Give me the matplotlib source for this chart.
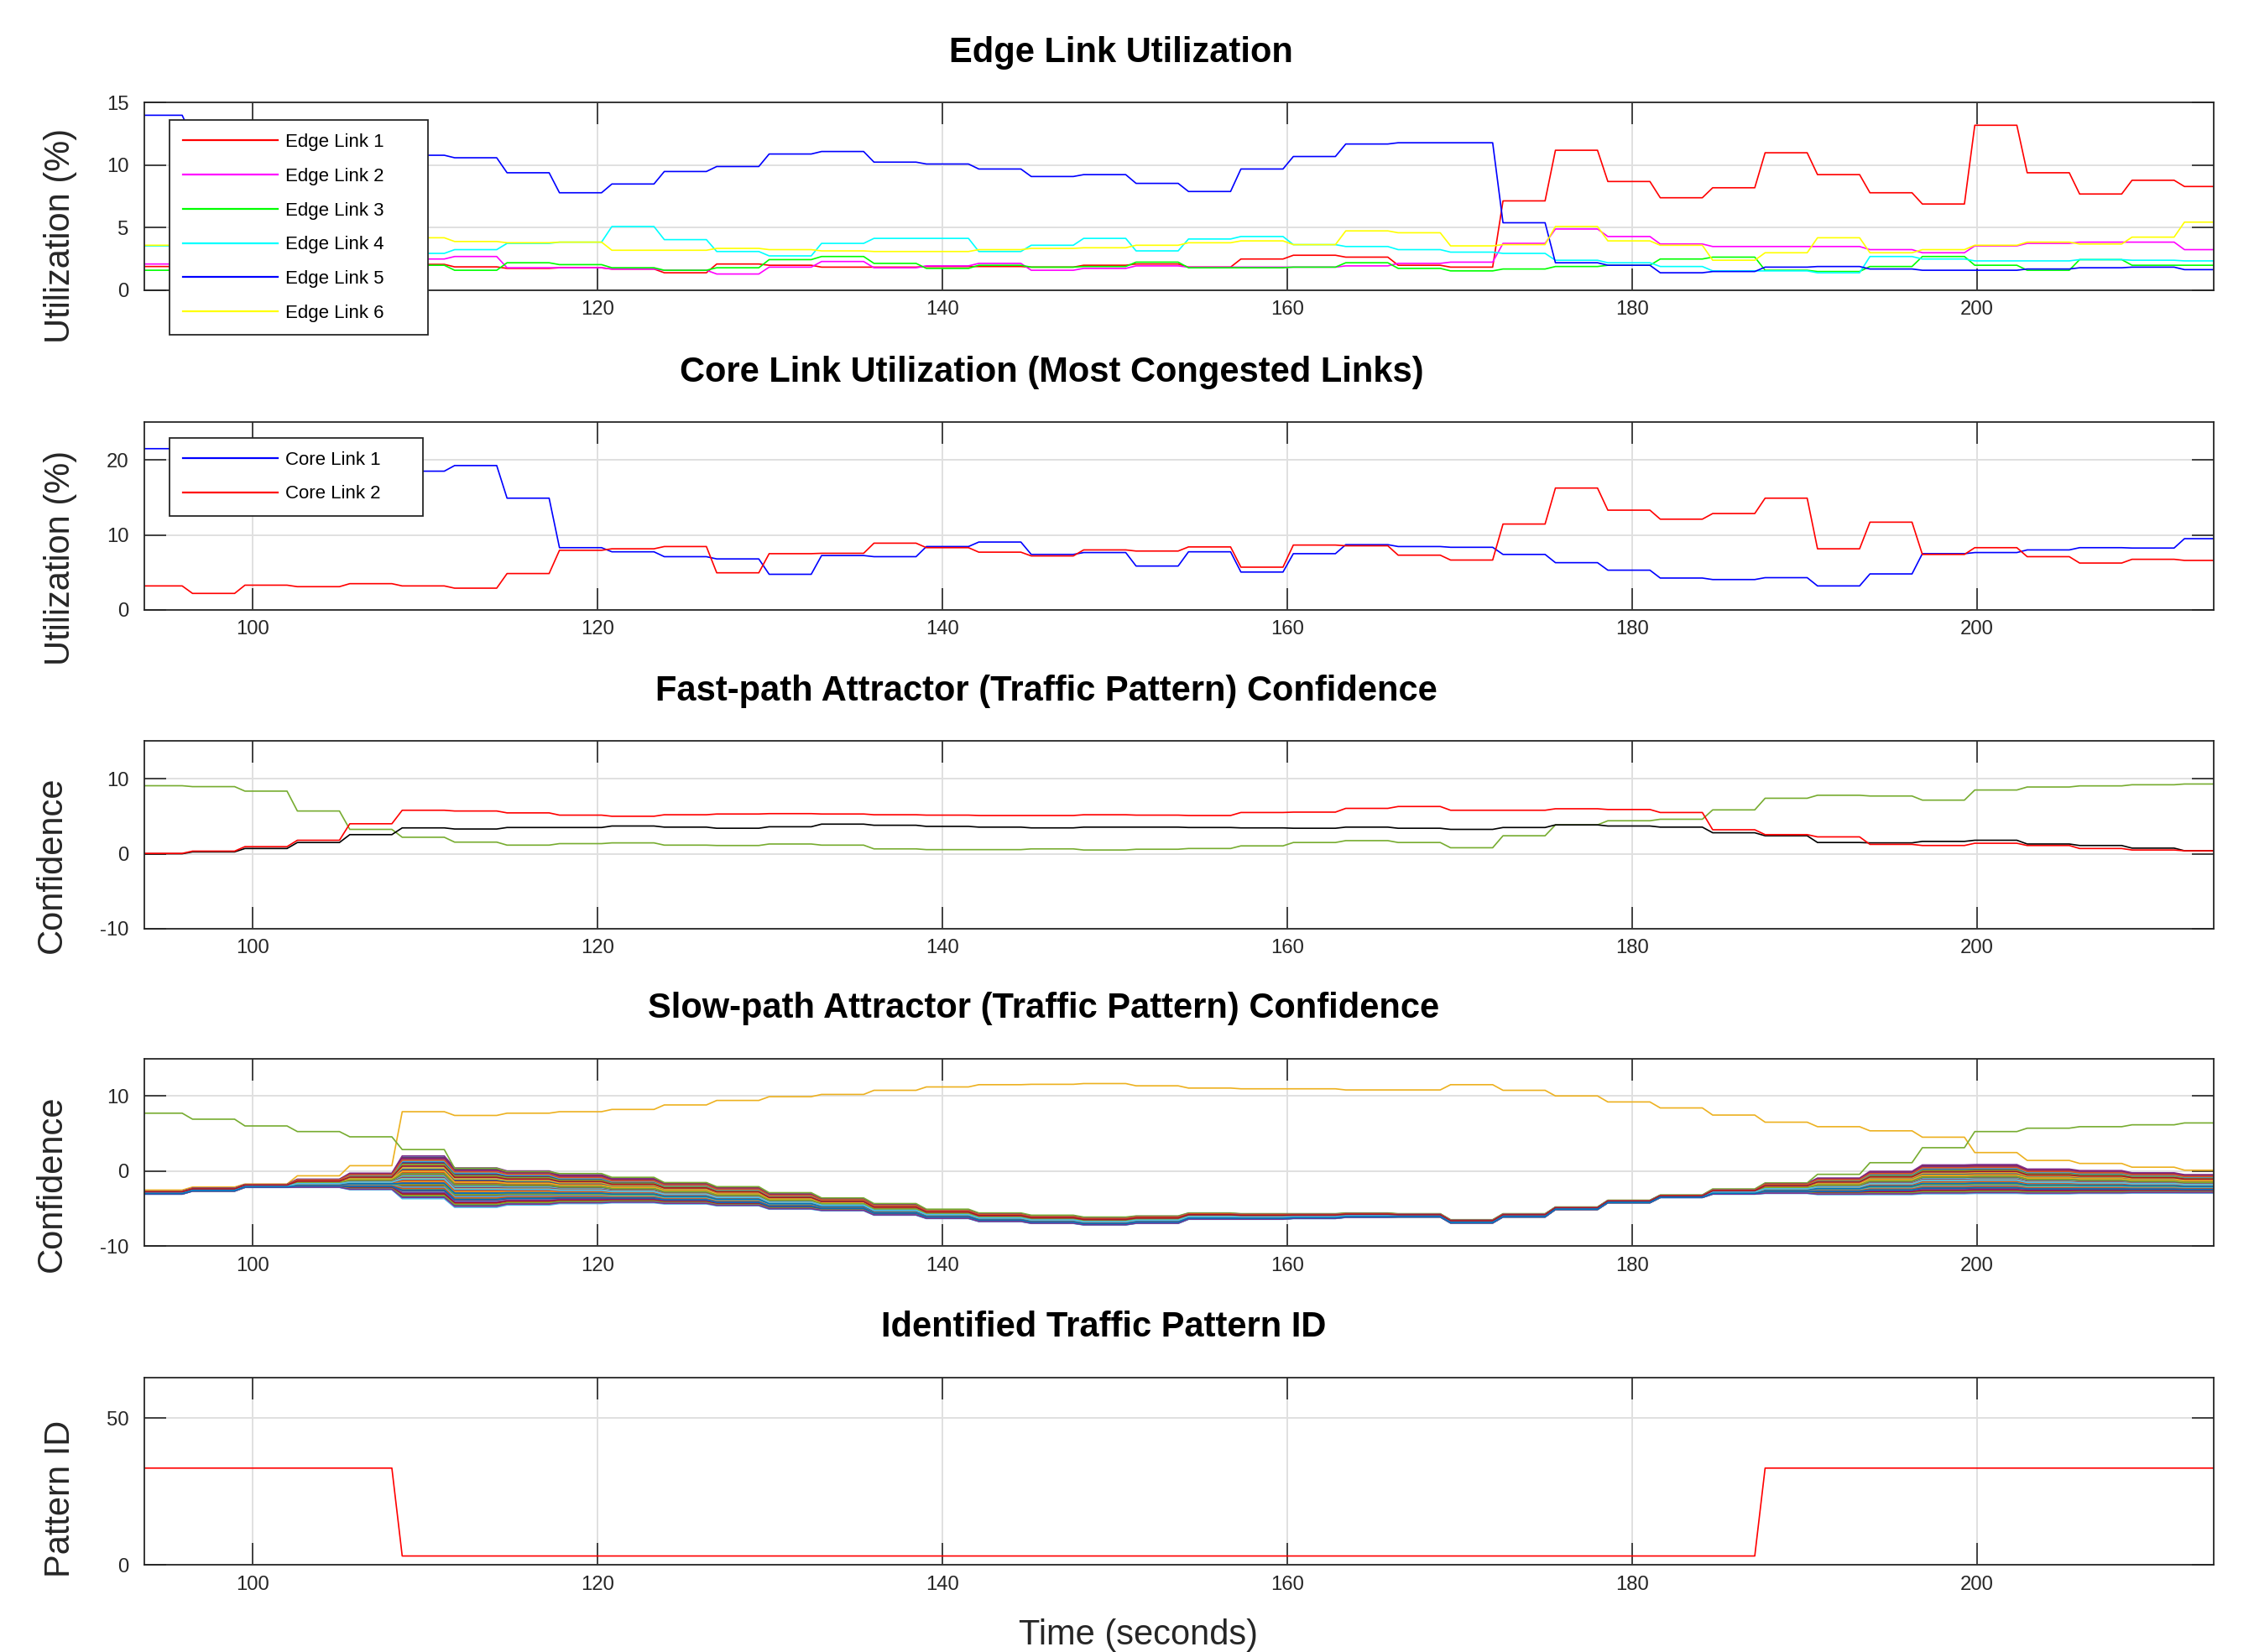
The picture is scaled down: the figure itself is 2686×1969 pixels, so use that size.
import numpy as np
import matplotlib
matplotlib.use("Agg")
import matplotlib.pyplot as plt

# the traffic levels change every ~3.04 s, the first change is at 95.9 s
t_first = 95.9
t_step = 3.04
ramp = 0.6
t_lo, t_hi = 93.7, 213.7

# ---- edge links (%) : one value per update interval
edge1 = [1.9, 2.0, 2.0, 2.1, 2.1, 2.07, 1.87, 1.75, 1.8, 1.7, 1.4, 2.1, 2.0, 1.85, 1.85, 1.9, 1.9, 1.85, 2.0, 2.1,
         1.85, 2.5, 2.8, 2.65, 2.0, 1.85, 7.15, 11.2, 8.7, 7.4, 8.2, 11.0, 9.25, 7.8, 6.9, 13.2, 9.4, 7.7, 8.8, 8.3]
edge2 = [2.1, 2.2, 2.3, 2.4, 2.5, 2.5, 2.7, 1.8, 1.8, 1.7, 1.6, 1.3, 1.85, 2.3, 1.8, 1.95, 2.15, 1.6, 1.75, 1.95,
         1.85, 1.85, 1.85, 1.95, 2.15, 2.25, 3.75, 4.9, 4.3, 3.7, 3.5, 3.5, 3.5, 3.25, 3.0, 3.55, 3.75, 3.85, 3.85, 3.25]
edge3 = [1.6, 1.7, 1.8, 1.9, 2.0, 2.0, 1.6, 2.2, 2.05, 1.8, 1.6, 1.8, 2.45, 2.7, 2.15, 1.75, 2.0, 1.85, 1.9, 2.25,
         1.8, 1.8, 1.85, 2.2, 1.75, 1.55, 1.7, 1.9, 2.0, 2.5, 2.65, 1.6, 1.5, 1.9, 2.7, 2.0, 1.6, 2.45, 2.0, 2.0]
edge4 = [3.55, 3.4, 3.2, 3.0, 2.95, 2.95, 3.25, 3.75, 3.85, 5.1, 4.05, 3.1, 2.75, 3.75, 4.15, 4.15, 3.1, 3.6, 4.15, 3.15,
         4.1, 4.3, 3.65, 3.5, 3.25, 3.05, 2.95, 2.4, 2.2, 1.9, 1.55, 1.55, 1.4, 2.7, 2.5, 2.35, 2.35, 2.45, 2.4, 2.35]
edge5 = [14.0, 12.2, 11.8, 11.4, 11.0, 10.8, 10.6, 9.4, 7.8, 8.5, 9.5, 9.9, 10.9, 11.1, 10.25, 10.1, 9.7, 9.1, 9.25, 8.55,
         7.9, 9.7, 10.7, 11.7, 11.8, 11.8, 5.4, 2.2, 2.0, 1.4, 1.5, 1.85, 1.9, 1.7, 1.6, 1.6, 1.7, 1.8, 1.85, 1.65]
edge6 = [3.6, 3.8, 4.0, 4.2, 4.2, 4.2, 3.9, 3.8, 3.85, 3.2, 3.2, 3.35, 3.25, 3.15, 3.1, 3.1, 3.25, 3.35, 3.4, 3.6,
         3.8, 3.95, 3.65, 4.75, 4.6, 3.55, 3.65, 5.1, 3.95, 3.6, 2.4, 3.0, 4.2, 3.0, 3.25, 3.6, 3.85, 3.7, 4.25, 5.45]

# ---- core links (%)
core1 = [21.5, 20.8, 20.2, 19.6, 19.0, 18.5, 19.25, 14.9, 8.3, 7.75, 7.1, 6.8, 4.75, 7.25, 7.1, 8.45, 9.05, 7.4, 7.65, 5.85,
         7.75, 5.05, 7.5, 8.7, 8.45, 8.35, 7.4, 6.3, 5.3, 4.25, 4.05, 4.3, 3.2, 4.8, 7.5, 7.65, 8.0, 8.3, 8.25, 9.5]
core2 = [3.2, 2.2, 3.3, 3.1, 3.5, 3.2, 2.9, 4.85, 7.95, 8.15, 8.45, 4.95, 7.5, 7.55, 8.9, 8.3, 7.7, 7.2, 8.0, 7.85,
         8.4, 5.7, 8.65, 8.55, 7.3, 6.65, 11.45, 16.25, 13.3, 12.1, 12.85, 14.9, 8.15, 11.7, 7.4, 8.3, 7.1, 6.25, 6.75, 6.6]

# ---- fast-path attractor confidence
fast_green = [9.07, 8.95, 8.35, 5.7, 3.25, 2.2, 1.55, 1.15, 1.35, 1.45, 1.15, 1.1, 1.3, 1.15, 0.65, 0.55, 0.55, 0.65, 0.5, 0.6,
              0.7, 1.05, 1.5, 1.75, 1.5, 0.8, 2.4, 3.85, 4.4, 4.6, 5.85, 7.4, 7.8, 7.7, 7.15, 8.5, 8.9, 9.05, 9.2, 9.3]
fast_red = [0.05, 0.35, 0.95, 1.8, 4.0, 5.8, 5.7, 5.45, 5.15, 5.0, 5.2, 5.3, 5.35, 5.3, 5.2, 5.15, 5.1, 5.1, 5.2, 5.15,
            5.1, 5.5, 5.55, 6.05, 6.3, 5.8, 5.8, 6.0, 5.9, 5.5, 3.2, 2.55, 2.25, 1.25, 1.1, 1.4, 1.1, 0.7, 0.5, 0.4]
fast_black = [0.0, 0.25, 0.7, 1.5, 2.55, 3.45, 3.3, 3.5, 3.5, 3.7, 3.55, 3.4, 3.6, 3.95, 3.8, 3.65, 3.55, 3.45, 3.55, 3.55,
              3.5, 3.45, 3.4, 3.55, 3.4, 3.25, 3.5, 3.85, 3.7, 3.55, 2.8, 2.4, 1.5, 1.45, 1.65, 1.8, 1.3, 1.1, 0.75, 0.4]

# ---- slow-path attractor confidence (pattern 3 = orange, pattern 33 = green)
slow_p3 = [-2.55, -2.15, -1.75, -0.65, 0.7, 7.9, 7.4, 7.7, 7.9, 8.2, 8.8, 9.4, 9.9, 10.2, 10.75, 11.2, 11.5, 11.55, 11.65, 11.35,
           11.05, 10.95, 10.95, 10.8, 10.8, 11.5, 10.75, 10.0, 9.2, 8.4, 7.45, 6.5, 5.9, 5.35, 4.5, 2.45, 1.4, 1.0, 0.5, 0.1]
slow_p33 = [7.7, 6.9, 6.0, 5.25, 4.55, 2.85, 0.35, -0.1, -0.35, -0.85, -1.55, -2.1, -2.9, -3.6, -4.35, -5.1, -5.6, -5.9, -6.15, -6.0,
            -5.6, -5.7, -5.7, -5.6, -5.7, -6.5, -5.7, -4.8, -3.9, -3.2, -2.4, -1.6, -0.45, 1.1, 3.1, 5.25, 5.7, 5.9, 6.15, 6.4]
# the other 62 patterns form a dense band: top / bottom of the band per interval
band_hi = [-2.7, -2.3, -1.8, -1.1, -0.3, 2.0, 0.4, 0.0, -0.5, -1.0, -1.6, -2.2, -3.05, -3.7, -4.5, -5.2, -5.7, -6.0, -6.25, -6.05,
           -5.65, -5.75, -5.75, -5.65, -5.75, -6.55, -5.75, -4.85, -3.95, -3.25, -2.5, -1.65, -0.95, -0.05, 0.8, 0.85, 0.25, 0.05, -0.25, -0.5]
band_lo = [-3.1, -2.7, -2.2, -2.2, -2.5, -3.7, -4.85, -4.55, -4.35, -4.25, -4.4, -4.65, -5.1, -5.3, -5.9, -6.35, -6.75, -7.0, -7.2, -7.0,
           -6.45, -6.45, -6.35, -6.2, -6.15, -6.95, -6.15, -5.15, -4.25, -3.55, -3.1, -3.0, -3.15, -3.15, -3.05, -3.0, -3.05, -3.0, -2.95, -2.95]
# rough place of each pattern inside the band (0 = bottom, 1 = top), patterns 1..64
band_pos = [0.97, 0.50, None, 1.00, 0.44, 0.00, 0.95, 0.12, 0.15, 0.55, 0.82, 0.68, 0.74, 0.40, 0.45, 0.78,
            0.30, 0.26, 0.22, 0.35, 0.66, 0.70, 0.33, 0.18, 0.60, 0.52, 0.16, 0.19, 0.28, 0.62, 0.72, 0.38,
            None, 0.54, 0.84, 0.86, 0.08, 0.40, 0.93, 0.80, 0.88, 0.30, 0.05, 0.90, 0.10, 0.14, 0.32, 0.27,
            0.11, 0.58, 0.42, 0.64, 0.49, 0.07, 0.02, 0.57, 0.36, 0.24, 0.47, 0.03, 0.58, 0.46, 0.76, 0.20]

# ---- identified pattern
pattern_id = [33] * 5 + [3] * 26 + [33] * 9

matlab_colors = ['#0072BD', '#D95319', '#EDB120', '#7E2F8E', '#77AC30', '#4DBEEE', '#A2142F']


def stairs(levels):
    levels = np.asarray(levels, dtype=float)
    tc = t_first + t_step * np.arange(len(levels) - 1)
    x = [t_lo]
    y = [levels[0]]
    for i in range(1, len(levels)):
        x += [tc[i - 1], tc[i - 1] + ramp]
        y += [levels[i - 1], levels[i]]
    x.append(t_hi)
    y.append(levels[-1])
    return np.array(x), np.array(y)


plt.rcParams['font.family'] = ['Liberation Sans', 'DejaVu Sans']
plt.rcParams['axes.unicode_minus'] = False

fig = plt.figure(figsize=(13.43, 9.845), dpi=200)
bottoms = [0.8243, 0.6308, 0.4378, 0.2458, 0.0528]
axes = [fig.add_axes([0.064, b, 0.918, 0.1135]) for b in bottoms]

LW = 0.6
DARK = '#262626'
for ax in axes:
    ax.set_xlim(t_lo, t_hi)
    ax.set_xticks([100, 120, 140, 160, 180, 200])
    ax.tick_params(direction='in', length=9.4, width=0.6, top=True, right=True,
                   labelsize=8.6, color=DARK, labelcolor=DARK)
    ax.tick_params(axis='x', pad=4.5)
    ax.tick_params(axis='y', pad=6.5)
    ax.grid(True, color='#e0e0e0', lw=0.7)
    ax.set_axisbelow(True)
    for sp in ax.spines.values():
        sp.set_linewidth(0.65)
        sp.set_color(DARK)


def title(ax, xc, text):
    ax.text(xc, 1.265, text, transform=ax.transAxes, ha='center', va='center',
            fontsize=15, fontweight='bold')


def ylab(ax, x, y, text):
    ax.text(x, y, text, transform=ax.transAxes, rotation=90, ha='center', va='center',
            fontsize=15, color=DARK)


def box_legend(ax, anchor):
    leg = ax.legend(loc='upper left', bbox_to_anchor=anchor, mode='expand',
                    borderaxespad=0, fontsize=8, handlelength=5.1, handletextpad=0.4,
                    labelspacing=0.89, borderpad=0.7, fancybox=False, framealpha=1)
    leg.get_frame().set_edgecolor(DARK)
    leg.get_frame().set_linewidth(0.65)
    for line in leg.get_lines():
        line.set_linewidth(0.8)


# 1) edge links
ax = axes[0]
for vals, c, lab in zip([edge1, edge2, edge3, edge4, edge5, edge6],
                        ['#ff0000', '#ff00ff', '#00ff00', '#00ffff', '#0000ff', '#ffff00'],
                        ['Edge Link %d' % i for i in range(1, 7)]):
    ax.plot(*stairs(vals), color=c, lw=LW, label=lab)
ax.set_ylim(0, 15)
ax.set_yticks([0, 5, 10, 15])
title(ax, 0.472, 'Edge Link Utilization')
ylab(ax, -0.0406, 0.291, 'Utilization (%)')
box_legend(ax, (0.0122, -0.5, 0.125, 1.406))

# 2) core links
ax = axes[1]
ax.plot(*stairs(core1), color='#0000ff', lw=LW, label='Core Link 1')
ax.plot(*stairs(core2), color='#ff0000', lw=LW, label='Core Link 2')
ax.set_ylim(0, 25)
ax.set_yticks([0, 10, 20])
title(ax, 0.4386, 'Core Link Utilization (Most Congested Links)')
ylab(ax, -0.0406, 0.277, 'Utilization (%)')
box_legend(ax, (0.0122, 0.0, 0.1223, 0.917))

# 3) fast path
ax = axes[2]
ax.plot(*stairs(fast_green), color='#77AC30', lw=LW)
ax.plot(*stairs(fast_black), color='#000000', lw=LW)
ax.plot(*stairs(fast_red), color='#ff0000', lw=LW)
ax.set_ylim(-10, 15)
ax.set_yticks([-10, 0, 10])
title(ax, 0.436, 'Fast-path Attractor (Traffic Pattern) Confidence')
ylab(ax, -0.0448, 0.3415, 'Confidence')

# 4) slow path
ax = axes[3]
hi = np.array(band_hi)
lo = np.array(band_lo)
for pid in range(1, 65):
    c = matlab_colors[(pid - 1) % 7]
    if pid == 3:
        vals = slow_p3
    elif pid == 33:
        vals = slow_p33
    else:
        vals = lo + band_pos[pid - 1] * (hi - lo)
    ax.plot(*stairs(vals), color=c, lw=LW)
ax.set_ylim(-10, 15)
ax.set_yticks([-10, 0, 10])
title(ax, 0.4345, 'Slow-path Attractor (Traffic Pattern) Confidence')
ylab(ax, -0.0448, 0.333, 'Confidence')

# 5) pattern id
ax = axes[4]
ax.plot(*stairs(pattern_id), color='#ff0000', lw=LW)
ax.set_ylim(0, 64)
ax.set_yticks([0, 50])
title(ax, 0.4636, 'Identified Traffic Pattern ID')
ylab(ax, -0.0406, 0.352, 'Pattern ID')
ax.text(0.4806, -0.377, 'Time (seconds)', transform=ax.transAxes, ha='center', va='center',
        fontsize=15, color=DARK)

fig.savefig('out.png', dpi=200)
